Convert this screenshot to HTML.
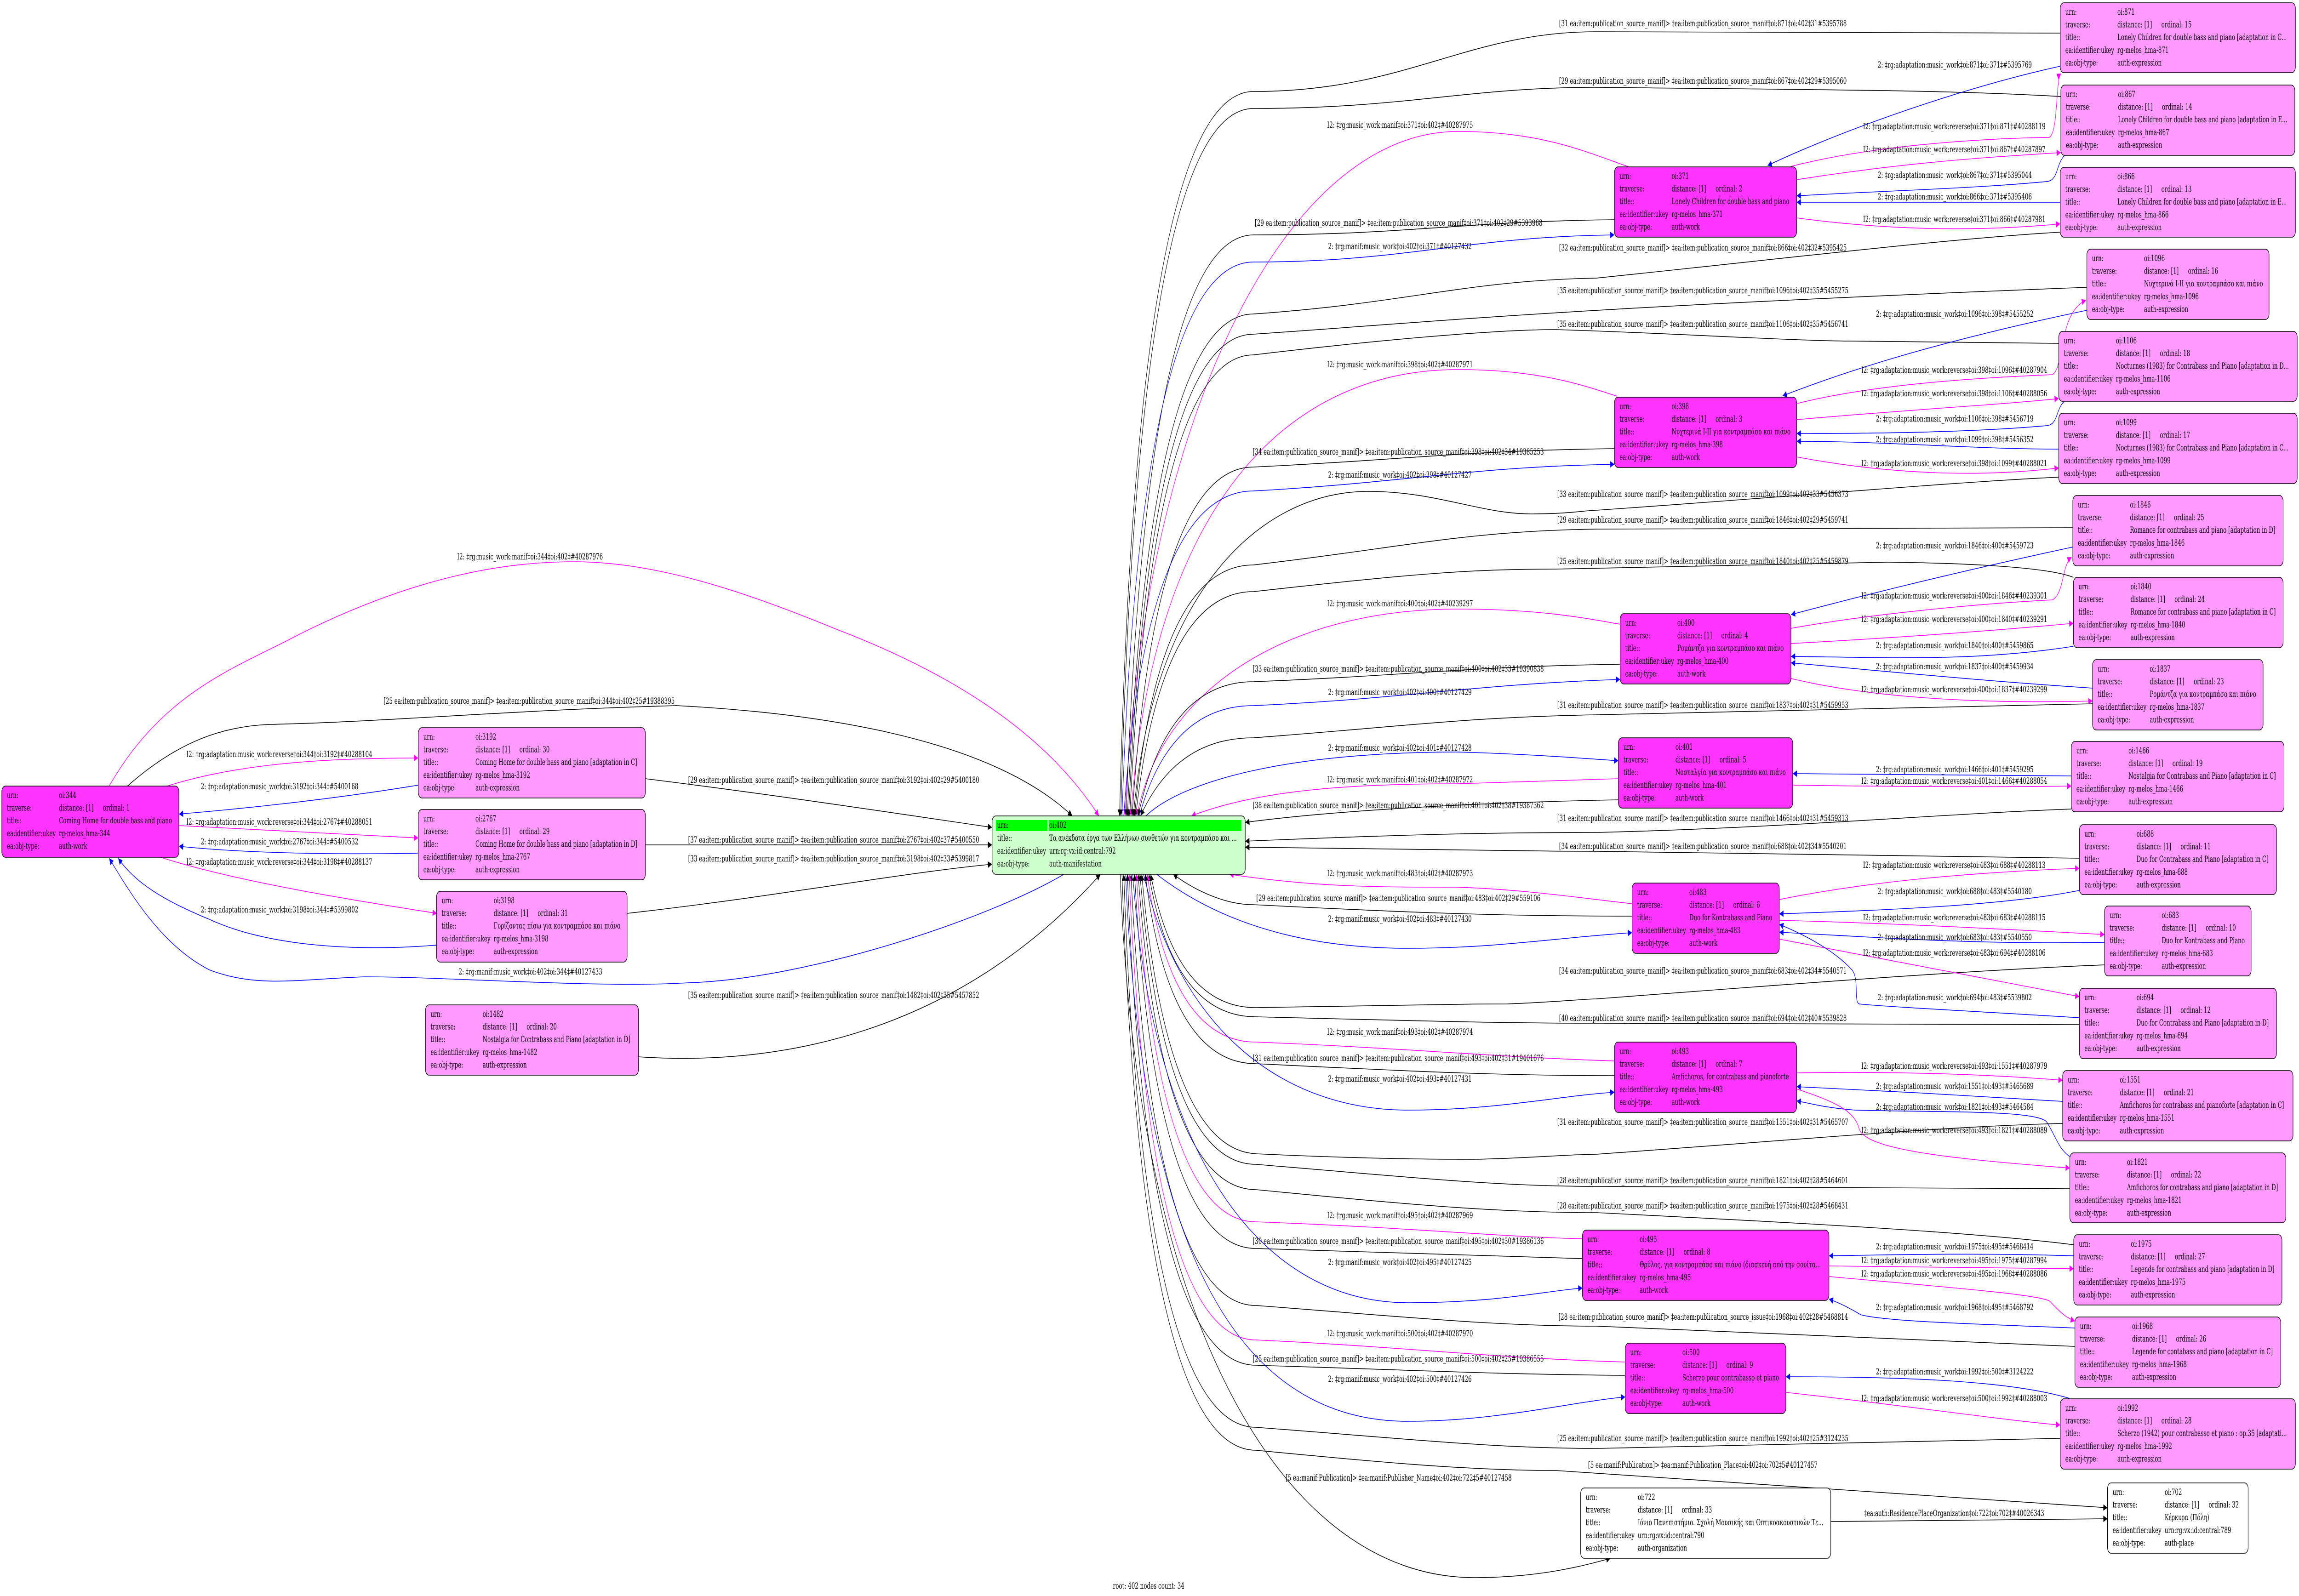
<!DOCTYPE html>
<html><head><meta charset="utf-8">
<style>
html,body{margin:0;padding:0;background:#fff;width:100%;height:100%;overflow:hidden;}
svg{display:block;position:absolute;left:0;top:0;width:100%;height:100%;}
text{font-family:"DejaVu Serif","Liberation Serif","Noto Serif CJK SC",serif;font-size:18.3px;fill:#000;}
.e{fill:none;stroke-width:1.6;}
.k{stroke:#000;} .m{stroke:#ff00ff;} .b{stroke:#0000ff;}
.nb{stroke:#000;stroke-width:1.6;}
</style></head>
<body>
<svg viewBox="0 0 7684 3472" preserveAspectRatio="none" xmlns="http://www.w3.org/2000/svg">
<defs>
<marker id="ak" viewBox="0 0 10 10" refX="10" refY="5" markerWidth="20" markerHeight="14" markerUnits="userSpaceOnUse" orient="auto-start-reverse"><path d="M0,0L10,5L0,10z" fill="#000"/></marker>
<marker id="am" viewBox="0 0 10 10" refX="10" refY="5" markerWidth="20" markerHeight="14" markerUnits="userSpaceOnUse" orient="auto-start-reverse"><path d="M0,0L10,5L0,10z" fill="#ff00ff"/></marker>
<marker id="ab" viewBox="0 0 10 10" refX="10" refY="5" markerWidth="20" markerHeight="14" markerUnits="userSpaceOnUse" orient="auto-start-reverse"><path d="M0,0L10,5L0,10z" fill="#0000ff"/></marker>
</defs>
<rect width="7684" height="3472" fill="#fff"/>

<g>
<path class="e k" marker-start="url(#ak)" d="M3742,1775 Q3800,199 4190,199 C4700,199 4900,69 5336,69 L6886,72"/>
<path class="e k" marker-start="url(#ak)" d="M3746,1775 Q3805,236 4190,236 C4700,236 4900,190 5336,190 C6000,195 6500,195 6888,210"/>
<path class="e m" marker-start="url(#am)" d="M3760,1775 C3820,900 4300,286 4873,286 C5150,286 5300,330 5444,363"/>
<path class="e k" marker-start="url(#ak)" d="M3764,1775 Q3830,511 4190,511 C4700,511 4900,481 5396,478"/>
<path class="e b" marker-end="url(#ab)" d="M3750,1775 Q3810,570 4190,570 C4700,570 4900,515 5396,511"/>
<path class="e k" marker-start="url(#ak)" d="M3768,1775 Q3840,683 4190,683 C4700,660 4900,610 5336,605 C6000,560 6500,520 6886,505"/>
<path class="e k" marker-start="url(#ak)" d="M3772,1775 Q3845,727 4190,727 C4800,700 5200,670 6975,625"/>
<path class="e k" marker-start="url(#ak)" d="M3776,1775 Q3850,772 4190,772 C4600,740 5000,717 5200,717 C5600,725 6000,742 6196,742 L6881,747"/>
<path class="e m" marker-start="url(#am)" d="M3780,1775 C3850,1100 4300,804 4873,804 C5150,804 5300,840 5405,862"/>
<path class="e k" marker-start="url(#ak)" d="M3784,1775 Q3860,1016 4190,1016 C4700,1000 4900,980 5396,976"/>
<path class="e b" marker-end="url(#ab)" d="M3756,1775 Q3830,1068 4190,1068 C4700,1050 4900,1016 5396,1010"/>
<path class="e k" marker-start="url(#ak)" d="M3788,1775 C3850,1300 4200,1069 4574,1069 C4800,1069 4950,1118 5117,1118 C5250,1118 5300,1110 5336,1110 C6000,1080 6500,1050 6881,1038"/>
<path class="e k" marker-start="url(#ak)" d="M3792,1775 Q3870,1229 4190,1229 C4700,1190 4900,1155 5336,1151 L6928,1148"/>
<path class="e k" marker-start="url(#ak)" d="M3796,1775 Q3880,1287 4190,1287 C4700,1250 4900,1238 5200,1238 C5700,1230 6100,1223 6307,1223 C6600,1225 6850,1235 6930,1256"/>
<path class="e m" marker-start="url(#am)" d="M3800,1775 C3880,1500 4300,1325 4873,1325 C5150,1325 5300,1345 5415,1358"/>
<path class="e k" marker-start="url(#ak)" d="M3804,1775 Q3900,1483 4190,1483 C4700,1470 4900,1450 5415,1445"/>
<path class="e b" marker-end="url(#ab)" d="M3808,1775 Q3910,1535 4190,1535 C4700,1520 4900,1490 5415,1478"/>
<path class="e k" marker-start="url(#ak)" d="M3812,1775 Q3930,1605 4190,1605 C4700,1580 4900,1560 5336,1555 L6994,1531"/>
<path class="e b" marker-end="url(#ab)" d="M3830,1775 C3950,1700 4300,1636 4873,1636 C5100,1640 5300,1650 5409,1655"/>
<path class="e m" marker-start="url(#am)" d="M3982,1775 C4200,1720 4500,1705 4873,1705 C5100,1700 5300,1696 5409,1694"/>
<path class="e k" marker-start="url(#ak)" d="M4162,1789 C4500,1760 5000,1745 5409,1740"/>
<path class="e k" marker-start="url(#ak)" d="M4162,1830 C4700,1815 5000,1811 5336,1811 C6000,1800 6500,1770 6923,1760"/>
<path class="e k" marker-start="url(#ak)" d="M4162,1843 C4700,1845 5000,1852 5336,1852 L6950,1867"/>
<path class="e m" marker-start="url(#am)" d="M4109,1902 C4400,1930 4600,1930 4873,1930 C5100,1935 5300,1955 5455,1966"/>
<path class="e k" marker-start="url(#ak)" d="M3921,1902 C4000,1940 4100,1968 4187,1968 C4700,1985 5000,1993 5455,1993"/>
<path class="e b" marker-end="url(#ab)" d="M3866,1902 C4100,2020 4400,2063 4707,2063 C5000,2063 5200,2040 5455,2029"/>
<path class="e k" marker-start="url(#ak)" d="M3846,1902 Q3930,2192 4198,2192 C4600,2188 4800,2184 5039,2184 C5200,2180 5300,2173 5336,2173 C6000,2140 6600,2110 7034,2099"/>
<path class="e k" marker-start="url(#ak)" d="M3840,1902 Q3920,2212 4198,2212 C4700,2220 5000,2226 5336,2226 L6950,2229"/>
<path class="e m" marker-start="url(#am)" d="M3834,1902 Q3915,2267 4198,2267 C4700,2280 5000,2300 5396,2308"/>
<path class="e k" marker-start="url(#ak)" d="M3828,1902 Q3905,2314 4198,2314 C4700,2330 5000,2340 5396,2340"/>
<path class="e b" marker-end="url(#ab)" d="M3822,1902 C3950,2250 4300,2415 4707,2415 C5000,2415 5200,2385 5396,2376"/>
<path class="e k" marker-start="url(#ak)" d="M3816,1902 Q3900,2500 4198,2510 C4600,2522 4800,2522 4928,2522 C5100,2520 5250,2511 5336,2511 C6000,2480 6500,2450 6894,2444"/>
<path class="e k" marker-start="url(#ak)" d="M3810,1902 Q3890,2533 4198,2533 C4700,2560 5000,2581 5336,2581 L6918,2586"/>
<path class="e k" marker-start="url(#ak)" d="M3804,1902 Q3880,2588 4198,2588 C4700,2620 5000,2638 5336,2638 C6000,2660 6600,2680 6931,2708"/>
<path class="e m" marker-start="url(#am)" d="M3798,1902 Q3870,2658 4198,2658 C4700,2670 5000,2690 5289,2695"/>
<path class="e k" marker-start="url(#ak)" d="M3792,1902 Q3860,2716 4198,2716 C4700,2725 5000,2735 5289,2738"/>
<path class="e b" marker-end="url(#ab)" d="M3786,1902 C3850,2500 4200,2834 4707,2834 C5000,2834 5150,2810 5289,2802"/>
<path class="e k" marker-start="url(#ak)" d="M3780,1902 Q3850,2840 4198,2840 C4700,2865 5000,2885 5336,2885 C6000,2905 6500,2920 6935,2929"/>
<path class="e m" marker-start="url(#am)" d="M3774,1902 Q3840,2915 4198,2915 C4700,2930 5000,2955 5432,2963"/>
<path class="e k" marker-start="url(#ak)" d="M3768,1902 Q3830,2970 4198,2970 C4700,2980 5000,2990 5432,2992"/>
<path class="e b" marker-end="url(#ab)" d="M3762,1902 C3820,2800 4200,3092 4707,3092 C5000,3092 5250,3050 5432,3039"/>
<path class="e k" marker-start="url(#ak)" d="M3756,1902 Q3820,3105 4198,3105 C4700,3130 5000,3151 5336,3151 L6886,3129"/>
<path class="e k" marker-end="url(#ak)" d="M3750,1902 Q3815,3155 4198,3155 C4600,3180 4900,3199 5200,3199 C6000,3230 6600,3265 7044,3280"/>
<path class="e k" marker-end="url(#ak)" d="M3744,1902 C3800,2900 4300,3432 4928,3432 C5150,3432 5300,3405 5383,3390"/>
<path class="e k" marker-end="url(#ak)" d="M6119,3310 L7044,3304"/>
</g>

<g>
<path class="e b" marker-end="url(#ab)" d="M6886,144 C6500,200 6100,300 5908,360"/>
<path class="e m" marker-end="url(#am)" d="M5986,362 C6300,310 6700,300 6849,299 C6880,290 6870,170 6889,160"/>
<path class="e m" marker-end="url(#am)" d="M6005,391 C6400,350 6700,340 6888,332"/>
<path class="e b" marker-end="url(#ab)" d="M6900,338 C6870,360 6880,393 6840,395 C6600,410 6300,415 6005,426"/>
<path class="e b" marker-end="url(#ab)" d="M6886,440 L6005,440"/>
<path class="e m" marker-end="url(#am)" d="M6005,474 C6300,500 6600,505 6886,487"/>
<path class="e b" marker-end="url(#ab)" d="M6975,675 C6500,740 6200,800 5958,861"/>
<path class="e m" marker-end="url(#am)" d="M6005,878 C6300,830 6700,820 6860,815 C6900,800 6880,680 6972,653"/>
<path class="e m" marker-end="url(#am)" d="M6005,913 C6400,890 6700,880 6881,867"/>
<path class="e b" marker-end="url(#ab)" d="M6900,873 C6870,890 6880,924 6840,926 C6600,940 6300,943 6005,943"/>
<path class="e b" marker-end="url(#ab)" d="M6881,977 C6600,977 6300,960 6005,960"/>
<path class="e m" marker-end="url(#am)" d="M6005,994 C6300,1030 6600,1040 6881,1018"/>
<path class="e b" marker-end="url(#ab)" d="M6928,1190 C6500,1250 6200,1300 5986,1337"/>
<path class="e m" marker-end="url(#am)" d="M5986,1367 C6300,1330 6700,1310 6860,1305 C6900,1290 6890,1230 6924,1212"/>
<path class="e m" marker-end="url(#am)" d="M5986,1400 C6400,1385 6700,1370 6930,1356"/>
<path class="e b" marker-end="url(#ab)" d="M6930,1406 C6600,1440 6300,1430 5986,1428"/>
<path class="e b" marker-end="url(#ab)" d="M6994,1497 C6600,1480 6300,1460 5986,1442"/>
<path class="e m" marker-end="url(#am)" d="M5986,1476 C6300,1525 6700,1530 6994,1525"/>
<path class="e b" marker-end="url(#ab)" d="M6923,1688 L5992,1683"/>
<path class="e m" marker-end="url(#am)" d="M5992,1708 C6400,1712 6700,1712 6923,1710"/>
<path class="e m" marker-end="url(#am)" d="M5947,1957 C6300,1910 6700,1895 6950,1889"/>
<path class="e b" marker-end="url(#ab)" d="M6950,1937 C6700,1970 6300,1980 5947,1988"/>
<path class="e m" marker-end="url(#am)" d="M5947,2002 C6400,2010 6800,2025 7034,2033"/>
<path class="e b" marker-end="url(#ab)" d="M7034,2050 C6600,2055 6300,2040 5947,2028"/>
<path class="e m" marker-end="url(#am)" d="M5947,2043 C6400,2100 6800,2150 6950,2168"/>
<path class="e b" marker-end="url(#ab)" d="M6950,2214 C6600,2200 6300,2190 6214,2184 C6195,2180 6215,2130 6190,2110 C6120,2060 6000,2025 5947,2011"/>
<path class="e m" marker-end="url(#am)" d="M6005,2334 C6400,2330 6700,2340 6894,2350"/>
<path class="e b" marker-end="url(#ab)" d="M6894,2396 C6600,2385 6300,2372 6005,2364"/>
<path class="e b" marker-end="url(#ab)" d="M6918,2516 C6880,2500 6870,2470 6840,2440 C6800,2415 6500,2420 6200,2415 C6100,2410 6050,2400 6005,2395"/>
<path class="e m" marker-end="url(#am)" d="M6005,2369 C6150,2400 6200,2420 6214,2456 C6236,2500 6500,2520 6918,2541"/>
<path class="e b" marker-end="url(#ab)" d="M6931,2732 C6600,2725 6300,2730 6113,2732"/>
<path class="e m" marker-end="url(#am)" d="M6113,2754 L6931,2760"/>
<path class="e m" marker-end="url(#am)" d="M6113,2777 C6500,2800 6800,2815 6850,2830 C6880,2850 6900,2865 6935,2874"/>
<path class="e b" marker-end="url(#ab)" d="M6935,2889 C6600,2880 6300,2875 6219,2860 C6180,2845 6150,2835 6113,2826"/>
<path class="e b" marker-end="url(#ab)" d="M6917,3042 C6700,3000 6300,2995 5969,2995"/>
<path class="e m" marker-end="url(#am)" d="M5969,3029 C6400,3060 6700,3090 6886,3100"/>
</g>

<g>
<path class="e m" marker-end="url(#am)" d="M365,1710 C550,1500 800,1450 1000,1380 C1400,1250 1700,1222 1918,1222 C2200,1222 2500,1290 2800,1370 C3200,1470 3500,1600 3673,1775"/>
<path class="e k" marker-end="url(#ak)" d="M426,1710 C600,1610 750,1580 900,1576 C1300,1570 1700,1545 2261,1535 C2700,1550 3300,1600 3584,1775"/>
<path class="e k" marker-end="url(#ak)" d="M2157,1694 C2600,1730 3000,1770 3316,1800"/>
<path class="e k" marker-end="url(#ak)" d="M2157,1838 L3316,1838"/>
<path class="e k" marker-end="url(#ak)" d="M2096,1987 C2600,1950 3000,1900 3316,1880"/>
<path class="e k" marker-end="url(#ak)" d="M2134,2299 C2600,2320 3200,2250 3678,1902"/>
<path class="e b" marker-end="url(#ab)" d="M3556,1902 C3300,2000 2700,2130 2300,2138 C2000,2150 1500,2125 1218,2125 C1000,2130 863,2150 700,2110 C550,2060 450,1960 365,1867"/>
<path class="e m" marker-end="url(#am)" d="M559,1710 C800,1660 1100,1649 1398,1649"/>
<path class="e b" marker-end="url(#ab)" d="M1398,1708 C1100,1740 800,1760 598,1771"/>
<path class="e m" marker-end="url(#am)" d="M598,1796 C900,1805 1200,1815 1398,1823"/>
<path class="e b" marker-end="url(#ab)" d="M1398,1856 C1100,1860 800,1855 598,1841"/>
<path class="e m" marker-end="url(#am)" d="M537,1865 C800,1920 1200,1960 1460,1987"/>
<path class="e b" marker-end="url(#ab)" d="M1460,2056 C1200,2070 900,2060 700,2000 C550,1960 450,1920 395,1867"/>
</g>

<g>
<text x="5211" y="57">[31 ea:item:publication_source_manif]&gt; ‡ea:item:publication_source_manif‡oi:871‡oi:402‡31#5395788</text>
<text x="5211" y="182">[29 ea:item:publication_source_manif]&gt; ‡ea:item:publication_source_manif‡oi:867‡oi:402‡29#5395060</text>
<text x="4436" y="278">I2: ‡rg:music_work:manif‡oi:371‡oi:402‡#40287975</text>
<text x="4194" y="491">[29 ea:item:publication_source_manif]&gt; ‡ea:item:publication_source_manif‡oi:371‡oi:402‡29#5393968</text>
<text x="4439" y="542">2: ‡rg:manif:music_work‡oi:402‡oi:371‡#40127432</text>
<text x="5211" y="545">[32 ea:item:publication_source_manif]&gt; ‡ea:item:publication_source_manif‡oi:866‡oi:402‡32#5395425</text>
<text x="5205" y="638">[35 ea:item:publication_source_manif]&gt; ‡ea:item:publication_source_manif‡oi:1096‡oi:402‡35#5455275</text>
<text x="5205" y="711">[35 ea:item:publication_source_manif]&gt; ‡ea:item:publication_source_manif‡oi:1106‡oi:402‡35#5456741</text>
<text x="4436" y="799">I2: ‡rg:music_work:manif‡oi:398‡oi:402‡#40287971</text>
<text x="4187" y="989">[34 ea:item:publication_source_manif]&gt; ‡ea:item:publication_source_manif‡oi:398‡oi:402‡34#19385253</text>
<text x="4439" y="1039">2: ‡rg:manif:music_work‡oi:402‡oi:398‡#40127427</text>
<text x="5205" y="1081">[33 ea:item:publication_source_manif]&gt; ‡ea:item:publication_source_manif‡oi:1099‡oi:402‡33#5456373</text>
<text x="5205" y="1137">[29 ea:item:publication_source_manif]&gt; ‡ea:item:publication_source_manif‡oi:1846‡oi:402‡29#5459741</text>
<text x="5205" y="1227">[25 ea:item:publication_source_manif]&gt; ‡ea:item:publication_source_manif‡oi:1840‡oi:402‡25#5459879</text>
<text x="4436" y="1319">I2: ‡rg:music_work:manif‡oi:400‡oi:402‡#40239297</text>
<text x="4187" y="1461">[33 ea:item:publication_source_manif]&gt; ‡ea:item:publication_source_manif‡oi:400‡oi:402‡33#19390838</text>
<text x="4439" y="1512">2: ‡rg:manif:music_work‡oi:402‡oi:400‡#40127429</text>
<text x="5205" y="1540">[31 ea:item:publication_source_manif]&gt; ‡ea:item:publication_source_manif‡oi:1837‡oi:402‡31#5459953</text>
<text x="4439" y="1633">2: ‡rg:manif:music_work‡oi:402‡oi:401‡#40127428</text>
<text x="4436" y="1702">I2: ‡rg:music_work:manif‡oi:401‡oi:402‡#40287972</text>
<text x="4187" y="1758">[38 ea:item:publication_source_manif]&gt; ‡ea:item:publication_source_manif‡oi:401‡oi:402‡38#19387362</text>
<text x="5205" y="1786">[31 ea:item:publication_source_manif]&gt; ‡ea:item:publication_source_manif‡oi:1466‡oi:402‡31#5459313</text>
<text x="5211" y="1847">[34 ea:item:publication_source_manif]&gt; ‡ea:item:publication_source_manif‡oi:688‡oi:402‡34#5540201</text>
<text x="4436" y="1906">I2: ‡rg:music_work:manif‡oi:483‡oi:402‡#40287973</text>
<text x="4199" y="1960">[29 ea:item:publication_source_manif]&gt; ‡ea:item:publication_source_manif‡oi:483‡oi:402‡29#559106</text>
<text x="4439" y="2005">2: ‡rg:manif:music_work‡oi:402‡oi:483‡#40127430</text>
<text x="5211" y="2118">[34 ea:item:publication_source_manif]&gt; ‡ea:item:publication_source_manif‡oi:683‡oi:402‡34#5540571</text>
<text x="5211" y="2221">[40 ea:item:publication_source_manif]&gt; ‡ea:item:publication_source_manif‡oi:694‡oi:402‡40#5539828</text>
<text x="4436" y="2251">I2: ‡rg:music_work:manif‡oi:493‡oi:402‡#40287974</text>
<text x="4187" y="2308">[31 ea:item:publication_source_manif]&gt; ‡ea:item:publication_source_manif‡oi:493‡oi:402‡31#19401676</text>
<text x="4439" y="2353">2: ‡rg:manif:music_work‡oi:402‡oi:493‡#40127431</text>
<text x="5205" y="2447">[31 ea:item:publication_source_manif]&gt; ‡ea:item:publication_source_manif‡oi:1551‡oi:402‡31#5465707</text>
<text x="5205" y="2574">[28 ea:item:publication_source_manif]&gt; ‡ea:item:publication_source_manif‡oi:1821‡oi:402‡28#5464601</text>
<text x="5205" y="2629">[28 ea:item:publication_source_manif]&gt; ‡ea:item:publication_source_manif‡oi:1975‡oi:402‡28#5468431</text>
<text x="4436" y="2650">I2: ‡rg:music_work:manif‡oi:495‡oi:402‡#40287969</text>
<text x="4187" y="2706">[30 ea:item:publication_source_manif]&gt; ‡ea:item:publication_source_manif‡oi:495‡oi:402‡30#19386136</text>
<text x="4439" y="2752">2: ‡rg:manif:music_work‡oi:402‡oi:495‡#40127425</text>
<text x="5209" y="2871">[28 ea:item:publication_source_manif]&gt; ‡ea:item:publication_source_issue‡oi:1968‡oi:402‡28#5468814</text>
<text x="4436" y="2907">I2: ‡rg:music_work:manif‡oi:500‡oi:402‡#40287970</text>
<text x="4187" y="2962">[25 ea:item:publication_source_manif]&gt; ‡ea:item:publication_source_manif‡oi:500‡oi:402‡25#19386555</text>
<text x="4439" y="3006">2: ‡rg:manif:music_work‡oi:402‡oi:500‡#40127426</text>
<text x="5205" y="3135">[25 ea:item:publication_source_manif]&gt; ‡ea:item:publication_source_manif‡oi:1992‡oi:402‡25#3124235</text>
<text x="5308" y="3193">[5 ea:manif:Publication]&gt; ‡ea:manif:Publication_Place‡oi:402‡oi:702‡5#40127457</text>
<text x="4297" y="3221">[5 ea:manif:Publication]&gt; ‡ea:manif:Publisher_Name‡oi:402‡oi:722‡5#40127458</text>
<text x="6230" y="3298">‡ea:auth:ResidencePlaceOrganization‡oi:722‡oi:702‡#40026343</text>

<text x="6276" y="147">2: ‡rg:adaptation:music_work‡oi:871‡oi:371‡#5395769</text>
<text x="6227" y="281">I2: ‡rg:adaptation:music_work:reverse‡oi:371‡oi:871‡#40288119</text>
<text x="6227" y="331">I2: ‡rg:adaptation:music_work:reverse‡oi:371‡oi:867‡#40287897</text>
<text x="6276" y="387">2: ‡rg:adaptation:music_work‡oi:867‡oi:371‡#5395044</text>
<text x="6276" y="434">2: ‡rg:adaptation:music_work‡oi:866‡oi:371‡#5395406</text>
<text x="6227" y="483">I2: ‡rg:adaptation:music_work:reverse‡oi:371‡oi:866‡#40287981</text>
<text x="6270" y="689">2: ‡rg:adaptation:music_work‡oi:1096‡oi:398‡#5455252</text>
<text x="6221" y="811">I2: ‡rg:adaptation:music_work:reverse‡oi:398‡oi:1096‡#40287904</text>
<text x="6221" y="862">I2: ‡rg:adaptation:music_work:reverse‡oi:398‡oi:1106‡#40288056</text>
<text x="6270" y="917">2: ‡rg:adaptation:music_work‡oi:1106‡oi:398‡#5456719</text>
<text x="6270" y="962">2: ‡rg:adaptation:music_work‡oi:1099‡oi:398‡#5456352</text>
<text x="6221" y="1014">I2: ‡rg:adaptation:music_work:reverse‡oi:398‡oi:1099‡#40288021</text>
<text x="6270" y="1193">2: ‡rg:adaptation:music_work‡oi:1846‡oi:400‡#5459723</text>
<text x="6221" y="1302">I2: ‡rg:adaptation:music_work:reverse‡oi:400‡oi:1846‡#40239301</text>
<text x="6221" y="1353">I2: ‡rg:adaptation:music_work:reverse‡oi:400‡oi:1840‡#40239291</text>
<text x="6270" y="1410">2: ‡rg:adaptation:music_work‡oi:1840‡oi:400‡#5459865</text>
<text x="6270" y="1456">2: ‡rg:adaptation:music_work‡oi:1837‡oi:400‡#5459934</text>
<text x="6221" y="1506">I2: ‡rg:adaptation:music_work:reverse‡oi:400‡oi:1837‡#40239299</text>
<text x="6270" y="1680">2: ‡rg:adaptation:music_work‡oi:1466‡oi:401‡#5459295</text>
<text x="6221" y="1705">I2: ‡rg:adaptation:music_work:reverse‡oi:401‡oi:1466‡#40288054</text>
<text x="6227" y="1888">I2: ‡rg:adaptation:music_work:reverse‡oi:483‡oi:688‡#40288113</text>
<text x="6276" y="1945">2: ‡rg:adaptation:music_work‡oi:688‡oi:483‡#5540180</text>
<text x="6227" y="2002">I2: ‡rg:adaptation:music_work:reverse‡oi:483‡oi:683‡#40288115</text>
<text x="6276" y="2045">2: ‡rg:adaptation:music_work‡oi:683‡oi:483‡#5540550</text>
<text x="6227" y="2079">I2: ‡rg:adaptation:music_work:reverse‡oi:483‡oi:694‡#40288106</text>
<text x="6276" y="2176">2: ‡rg:adaptation:music_work‡oi:694‡oi:483‡#5539802</text>
<text x="6221" y="2325">I2: ‡rg:adaptation:music_work:reverse‡oi:493‡oi:1551‡#40287979</text>
<text x="6270" y="2369">2: ‡rg:adaptation:music_work‡oi:1551‡oi:493‡#5465689</text>
<text x="6270" y="2414">2: ‡rg:adaptation:music_work‡oi:1821‡oi:493‡#5464584</text>
<text x="6221" y="2465">I2: ‡rg:adaptation:music_work:reverse‡oi:493‡oi:1821‡#40288089</text>
<text x="6270" y="2718">2: ‡rg:adaptation:music_work‡oi:1975‡oi:495‡#5468414</text>
<text x="6221" y="2748">I2: ‡rg:adaptation:music_work:reverse‡oi:495‡oi:1975‡#40287994</text>
<text x="6221" y="2777">I2: ‡rg:adaptation:music_work:reverse‡oi:495‡oi:1968‡#40288086</text>
<text x="6270" y="2850">2: ‡rg:adaptation:music_work‡oi:1968‡oi:495‡#5468792</text>
<text x="6270" y="2990">2: ‡rg:adaptation:music_work‡oi:1992‡oi:500‡#3124222</text>
<text x="6221" y="3048">I2: ‡rg:adaptation:music_work:reverse‡oi:500‡oi:1992‡#40288003</text>

<text x="1528" y="1217">I2: ‡rg:music_work:manif‡oi:344‡oi:402‡#40287976</text>
<text x="1282" y="1531">[25 ea:item:publication_source_manif]&gt; ‡ea:item:publication_source_manif‡oi:344‡oi:402‡25#19388395</text>
<text x="2300" y="1703">[29 ea:item:publication_source_manif]&gt; ‡ea:item:publication_source_manif‡oi:3192‡oi:402‡29#5400180</text>
<text x="2300" y="1833">[37 ea:item:publication_source_manif]&gt; ‡ea:item:publication_source_manif‡oi:2767‡oi:402‡37#5400550</text>
<text x="2300" y="1874">[33 ea:item:publication_source_manif]&gt; ‡ea:item:publication_source_manif‡oi:3198‡oi:402‡33#5399817</text>
<text x="2300" y="2171">[35 ea:item:publication_source_manif]&gt; ‡ea:item:publication_source_manif‡oi:1482‡oi:402‡35#5457852</text>
<text x="1533" y="2120">2: ‡rg:manif:music_work‡oi:402‡oi:344‡#40127433</text>
<text x="623" y="1647">I2: ‡rg:adaptation:music_work:reverse‡oi:344‡oi:3192‡#40288104</text>
<text x="671" y="1717">2: ‡rg:adaptation:music_work‡oi:3192‡oi:344‡#5400168</text>
<text x="623" y="1794">I2: ‡rg:adaptation:music_work:reverse‡oi:344‡oi:2767‡#40288051</text>
<text x="671" y="1837">2: ‡rg:adaptation:music_work‡oi:2767‡oi:344‡#5400532</text>
<text x="623" y="1881">I2: ‡rg:adaptation:music_work:reverse‡oi:344‡oi:3198‡#40288137</text>
<text x="671" y="1985">2: ‡rg:adaptation:music_work‡oi:3198‡oi:344‡#5399802</text>

<text x="3720" y="3456">root: 402 nodes count: 34</text>
</g>

<g transform="translate(3316,1775)">
<rect x="0" y="0" width="846" height="127" rx="12" fill="#ccffcc" class="nb"/>
<rect x="13" y="9" width="172" height="24" fill="#00ff00"/>
<rect x="189" y="9" width="644" height="24" fill="#00ff00"/>
<text x="17" y="26">urn:</text><text x="191" y="26">oi:402</text>
<text x="17" y="54">title::</text><text x="191" y="54">Τα ανέκδοτα έργα των Ελλήνων συνθετών για κοντραμπάσο και ...</text>
<text x="17" y="82">ea:identifier:ukey</text><text x="191" y="82">urn:rg:vx:id:central:792</text>
<text x="17" y="110">ea:obj-type:</text><text x="191" y="110">auth-manifestation</text>
</g>

<g transform="translate(6,1710)"><rect width="592" height="155" rx="12" fill="#ff33ff" class="nb"/>
<text x="17" y="26">urn:</text><text x="191" y="26">oi:344</text>
<text x="17" y="53.5">traverse:</text><text x="191" y="53.5">distance: [1]</text><text x="338" y="53.5">ordinal: 1</text>
<text x="17" y="81">title::</text><text x="191" y="81">Coming Home for double bass and piano</text>
<text x="17" y="109">ea:identifier:ukey</text><text x="191" y="109">rg-melos_hma-344</text>
<text x="17" y="136.5">ea:obj-type:</text><text x="191" y="136.5">auth-work</text></g>

<g transform="translate(5396,363)"><rect width="609" height="153" rx="12" fill="#ff33ff" class="nb"/>
<text x="17" y="26">urn:</text><text x="191" y="26">oi:371</text>
<text x="17" y="53.5">traverse:</text><text x="191" y="53.5">distance: [1]</text><text x="338" y="53.5">ordinal: 2</text>
<text x="17" y="81">title::</text><text x="191" y="81">Lonely Children for double bass and piano</text>
<text x="17" y="109">ea:identifier:ukey</text><text x="191" y="109">rg-melos_hma-371</text>
<text x="17" y="136.5">ea:obj-type:</text><text x="191" y="136.5">auth-work</text></g>

<g transform="translate(5396,864)"><rect width="609" height="153" rx="12" fill="#ff33ff" class="nb"/>
<text x="17" y="26">urn:</text><text x="191" y="26">oi:398</text>
<text x="17" y="53.5">traverse:</text><text x="191" y="53.5">distance: [1]</text><text x="338" y="53.5">ordinal: 3</text>
<text x="17" y="81">title::</text><text x="191" y="81">Νυχτερινά I-II για κοντραμπάσο και πιάνο</text>
<text x="17" y="109">ea:identifier:ukey</text><text x="191" y="109">rg-melos_hma-398</text>
<text x="17" y="136.5">ea:obj-type:</text><text x="191" y="136.5">auth-work</text></g>

<g transform="translate(5415,1335)"><rect width="571" height="153" rx="12" fill="#ff33ff" class="nb"/>
<text x="17" y="26">urn:</text><text x="191" y="26">oi:400</text>
<text x="17" y="53.5">traverse:</text><text x="191" y="53.5">distance: [1]</text><text x="338" y="53.5">ordinal: 4</text>
<text x="17" y="81">title::</text><text x="191" y="81">Ρομάντζα για κοντραμπάσο και πιάνο</text>
<text x="17" y="109">ea:identifier:ukey</text><text x="191" y="109">rg-melos_hma-400</text>
<text x="17" y="136.5">ea:obj-type:</text><text x="191" y="136.5">auth-work</text></g>

<g transform="translate(5409,1605)"><rect width="583" height="153" rx="12" fill="#ff33ff" class="nb"/>
<text x="17" y="26">urn:</text><text x="191" y="26">oi:401</text>
<text x="17" y="53.5">traverse:</text><text x="191" y="53.5">distance: [1]</text><text x="338" y="53.5">ordinal: 5</text>
<text x="17" y="81">title::</text><text x="191" y="81">Νοσταλγία για κοντραμπάσο και πιάνο</text>
<text x="17" y="109">ea:identifier:ukey</text><text x="191" y="109">rg-melos_hma-401</text>
<text x="17" y="136.5">ea:obj-type:</text><text x="191" y="136.5">auth-work</text></g>

<g transform="translate(5455,1921)"><rect width="492" height="153" rx="12" fill="#ff33ff" class="nb"/>
<text x="17" y="26">urn:</text><text x="191" y="26">oi:483</text>
<text x="17" y="53.5">traverse:</text><text x="191" y="53.5">distance: [1]</text><text x="338" y="53.5">ordinal: 6</text>
<text x="17" y="81">title::</text><text x="191" y="81">Duo for Kontrabass and Piano</text>
<text x="17" y="109">ea:identifier:ukey</text><text x="191" y="109">rg-melos_hma-483</text>
<text x="17" y="136.5">ea:obj-type:</text><text x="191" y="136.5">auth-work</text></g>

<g transform="translate(5396,2267)"><rect width="609" height="153" rx="12" fill="#ff33ff" class="nb"/>
<text x="17" y="26">urn:</text><text x="191" y="26">oi:493</text>
<text x="17" y="53.5">traverse:</text><text x="191" y="53.5">distance: [1]</text><text x="338" y="53.5">ordinal: 7</text>
<text x="17" y="81">title::</text><text x="191" y="81">Amfichoros, for contrabass and pianoforte</text>
<text x="17" y="109">ea:identifier:ukey</text><text x="191" y="109">rg-melos_hma-493</text>
<text x="17" y="136.5">ea:obj-type:</text><text x="191" y="136.5">auth-work</text></g>

<g transform="translate(5289,2676)"><rect width="824" height="153" rx="12" fill="#ff33ff" class="nb"/>
<text x="17" y="26">urn:</text><text x="191" y="26">oi:495</text>
<text x="17" y="53.5">traverse:</text><text x="191" y="53.5">distance: [1]</text><text x="338" y="53.5">ordinal: 8</text>
<text x="17" y="81">title::</text><text x="191" y="81">Θρύλος, για κοντραμπάσο και πιάνο (διασκευή από την σουίτα...</text>
<text x="17" y="109">ea:identifier:ukey</text><text x="191" y="109">rg-melos_hma-495</text>
<text x="17" y="136.5">ea:obj-type:</text><text x="191" y="136.5">auth-work</text></g>

<g transform="translate(5432,2922)"><rect width="537" height="153" rx="12" fill="#ff33ff" class="nb"/>
<text x="17" y="26">urn:</text><text x="191" y="26">oi:500</text>
<text x="17" y="53.5">traverse:</text><text x="191" y="53.5">distance: [1]</text><text x="338" y="53.5">ordinal: 9</text>
<text x="17" y="81">title::</text><text x="191" y="81">Scherzo pour contrabasso et piano</text>
<text x="17" y="109">ea:identifier:ukey</text><text x="191" y="109">rg-melos_hma-500</text>
<text x="17" y="136.5">ea:obj-type:</text><text x="191" y="136.5">auth-work</text></g>

<g transform="translate(1398,1583)"><rect width="759" height="153" rx="12" fill="#ff99ff" class="nb"/>
<text x="17" y="26">urn:</text><text x="191" y="26">oi:3192</text>
<text x="17" y="53.5">traverse:</text><text x="191" y="53.5">distance: [1]</text><text x="338" y="53.5">ordinal: 30</text>
<text x="17" y="81">title::</text><text x="191" y="81">Coming Home for double bass and piano [adaptation in C]</text>
<text x="17" y="109">ea:identifier:ukey</text><text x="191" y="109">rg-melos_hma-3192</text>
<text x="17" y="136.5">ea:obj-type:</text><text x="191" y="136.5">auth-expression</text></g>

<g transform="translate(1398,1761)"><rect width="759" height="153" rx="12" fill="#ff99ff" class="nb"/>
<text x="17" y="26">urn:</text><text x="191" y="26">oi:2767</text>
<text x="17" y="53.5">traverse:</text><text x="191" y="53.5">distance: [1]</text><text x="338" y="53.5">ordinal: 29</text>
<text x="17" y="81">title::</text><text x="191" y="81">Coming Home for double bass and piano [adaptation in D]</text>
<text x="17" y="109">ea:identifier:ukey</text><text x="191" y="109">rg-melos_hma-2767</text>
<text x="17" y="136.5">ea:obj-type:</text><text x="191" y="136.5">auth-expression</text></g>

<g transform="translate(1459,1939)"><rect width="637" height="154" rx="12" fill="#ff99ff" class="nb"/>
<text x="17" y="26">urn:</text><text x="191" y="26">oi:3198</text>
<text x="17" y="53.5">traverse:</text><text x="191" y="53.5">distance: [1]</text><text x="338" y="53.5">ordinal: 31</text>
<text x="17" y="81">title::</text><text x="191" y="81">Γυρίζοντας πίσω για κοντραμπάσο και πιάνο</text>
<text x="17" y="109">ea:identifier:ukey</text><text x="191" y="109">rg-melos_hma-3198</text>
<text x="17" y="136.5">ea:obj-type:</text><text x="191" y="136.5">auth-expression</text></g>

<g transform="translate(1422,2186)"><rect width="712" height="153" rx="12" fill="#ff99ff" class="nb"/>
<text x="17" y="26">urn:</text><text x="191" y="26">oi:1482</text>
<text x="17" y="53.5">traverse:</text><text x="191" y="53.5">distance: [1]</text><text x="338" y="53.5">ordinal: 20</text>
<text x="17" y="81">title::</text><text x="191" y="81">Nostalgia for Contrabass and Piano [adaptation in D]</text>
<text x="17" y="109">ea:identifier:ukey</text><text x="191" y="109">rg-melos_hma-1482</text>
<text x="17" y="136.5">ea:obj-type:</text><text x="191" y="136.5">auth-expression</text></g>

<g transform="translate(6886,6)"><rect width="786" height="152" rx="12" fill="#ff99ff" class="nb"/>
<text x="17" y="26">urn:</text><text x="191" y="26">oi:871</text>
<text x="17" y="53.5">traverse:</text><text x="191" y="53.5">distance: [1]</text><text x="338" y="53.5">ordinal: 15</text>
<text x="17" y="81">title::</text><text x="191" y="81">Lonely Children for double bass and piano [adaptation in C...</text>
<text x="17" y="109">ea:identifier:ukey</text><text x="191" y="109">rg-melos_hma-871</text>
<text x="17" y="136.5">ea:obj-type:</text><text x="191" y="136.5">auth-expression</text></g>

<g transform="translate(6888,185)"><rect width="782" height="153" rx="12" fill="#ff99ff" class="nb"/>
<text x="17" y="26">urn:</text><text x="191" y="26">oi:867</text>
<text x="17" y="53.5">traverse:</text><text x="191" y="53.5">distance: [1]</text><text x="338" y="53.5">ordinal: 14</text>
<text x="17" y="81">title::</text><text x="191" y="81">Lonely Children for double bass and piano [adaptation in E...</text>
<text x="17" y="109">ea:identifier:ukey</text><text x="191" y="109">rg-melos_hma-867</text>
<text x="17" y="136.5">ea:obj-type:</text><text x="191" y="136.5">auth-expression</text></g>

<g transform="translate(6886,364)"><rect width="786" height="152" rx="12" fill="#ff99ff" class="nb"/>
<text x="17" y="26">urn:</text><text x="191" y="26">oi:866</text>
<text x="17" y="53.5">traverse:</text><text x="191" y="53.5">distance: [1]</text><text x="338" y="53.5">ordinal: 13</text>
<text x="17" y="81">title::</text><text x="191" y="81">Lonely Children for double bass and piano [adaptation in E...</text>
<text x="17" y="109">ea:identifier:ukey</text><text x="191" y="109">rg-melos_hma-866</text>
<text x="17" y="136.5">ea:obj-type:</text><text x="191" y="136.5">auth-expression</text></g>

<g transform="translate(6975,542)"><rect width="609" height="153" rx="12" fill="#ff99ff" class="nb"/>
<text x="17" y="26">urn:</text><text x="191" y="26">oi:1096</text>
<text x="17" y="53.5">traverse:</text><text x="191" y="53.5">distance: [1]</text><text x="338" y="53.5">ordinal: 16</text>
<text x="17" y="81">title::</text><text x="191" y="81">Νυχτερινά I-II για κοντραμπάσο και πιάνο</text>
<text x="17" y="109">ea:identifier:ukey</text><text x="191" y="109">rg-melos_hma-1096</text>
<text x="17" y="136.5">ea:obj-type:</text><text x="191" y="136.5">auth-expression</text></g>

<g transform="translate(6881,721)"><rect width="797" height="152" rx="12" fill="#ff99ff" class="nb"/>
<text x="17" y="26">urn:</text><text x="191" y="26">oi:1106</text>
<text x="17" y="53.5">traverse:</text><text x="191" y="53.5">distance: [1]</text><text x="338" y="53.5">ordinal: 18</text>
<text x="17" y="81">title::</text><text x="191" y="81">Nocturnes (1983) for Contrabass and Piano [adaptation in D...</text>
<text x="17" y="109">ea:identifier:ukey</text><text x="191" y="109">rg-melos_hma-1106</text>
<text x="17" y="136.5">ea:obj-type:</text><text x="191" y="136.5">auth-expression</text></g>

<g transform="translate(6881,899)"><rect width="797" height="153" rx="12" fill="#ff99ff" class="nb"/>
<text x="17" y="26">urn:</text><text x="191" y="26">oi:1099</text>
<text x="17" y="53.5">traverse:</text><text x="191" y="53.5">distance: [1]</text><text x="338" y="53.5">ordinal: 17</text>
<text x="17" y="81">title::</text><text x="191" y="81">Nocturnes (1983) for Contrabass and Piano [adaptation in C...</text>
<text x="17" y="109">ea:identifier:ukey</text><text x="191" y="109">rg-melos_hma-1099</text>
<text x="17" y="136.5">ea:obj-type:</text><text x="191" y="136.5">auth-expression</text></g>

<g transform="translate(6928,1078)"><rect width="703" height="153" rx="12" fill="#ff99ff" class="nb"/>
<text x="17" y="26">urn:</text><text x="191" y="26">oi:1846</text>
<text x="17" y="53.5">traverse:</text><text x="191" y="53.5">distance: [1]</text><text x="338" y="53.5">ordinal: 25</text>
<text x="17" y="81">title::</text><text x="191" y="81">Romance for contrabass and piano [adaptation in D]</text>
<text x="17" y="109">ea:identifier:ukey</text><text x="191" y="109">rg-melos_hma-1846</text>
<text x="17" y="136.5">ea:obj-type:</text><text x="191" y="136.5">auth-expression</text></g>

<g transform="translate(6930,1256)"><rect width="701" height="153" rx="12" fill="#ff99ff" class="nb"/>
<text x="17" y="26">urn:</text><text x="191" y="26">oi:1840</text>
<text x="17" y="53.5">traverse:</text><text x="191" y="53.5">distance: [1]</text><text x="338" y="53.5">ordinal: 24</text>
<text x="17" y="81">title::</text><text x="191" y="81">Romance for contrabass and piano [adaptation in C]</text>
<text x="17" y="109">ea:identifier:ukey</text><text x="191" y="109">rg-melos_hma-1840</text>
<text x="17" y="136.5">ea:obj-type:</text><text x="191" y="136.5">auth-expression</text></g>

<g transform="translate(6994,1435)"><rect width="570" height="153" rx="12" fill="#ff99ff" class="nb"/>
<text x="17" y="26">urn:</text><text x="191" y="26">oi:1837</text>
<text x="17" y="53.5">traverse:</text><text x="191" y="53.5">distance: [1]</text><text x="338" y="53.5">ordinal: 23</text>
<text x="17" y="81">title::</text><text x="191" y="81">Ρομάντζα για κοντραμπάσο και πιάνο</text>
<text x="17" y="109">ea:identifier:ukey</text><text x="191" y="109">rg-melos_hma-1837</text>
<text x="17" y="136.5">ea:obj-type:</text><text x="191" y="136.5">auth-expression</text></g>

<g transform="translate(6923,1613)"><rect width="711" height="153" rx="12" fill="#ff99ff" class="nb"/>
<text x="17" y="26">urn:</text><text x="191" y="26">oi:1466</text>
<text x="17" y="53.5">traverse:</text><text x="191" y="53.5">distance: [1]</text><text x="338" y="53.5">ordinal: 19</text>
<text x="17" y="81">title::</text><text x="191" y="81">Nostalgia for Contrabass and Piano [adaptation in C]</text>
<text x="17" y="109">ea:identifier:ukey</text><text x="191" y="109">rg-melos_hma-1466</text>
<text x="17" y="136.5">ea:obj-type:</text><text x="191" y="136.5">auth-expression</text></g>

<g transform="translate(6950,1794)"><rect width="659" height="152" rx="12" fill="#ff99ff" class="nb"/>
<text x="17" y="26">urn:</text><text x="191" y="26">oi:688</text>
<text x="17" y="53.5">traverse:</text><text x="191" y="53.5">distance: [1]</text><text x="338" y="53.5">ordinal: 11</text>
<text x="17" y="81">title::</text><text x="191" y="81">Duo for Contrabass and Piano [adaptation in C]</text>
<text x="17" y="109">ea:identifier:ukey</text><text x="191" y="109">rg-melos_hma-688</text>
<text x="17" y="136.5">ea:obj-type:</text><text x="191" y="136.5">auth-expression</text></g>

<g transform="translate(7034,1971)"><rect width="490" height="152" rx="12" fill="#ff99ff" class="nb"/>
<text x="17" y="26">urn:</text><text x="191" y="26">oi:683</text>
<text x="17" y="53.5">traverse:</text><text x="191" y="53.5">distance: [1]</text><text x="338" y="53.5">ordinal: 10</text>
<text x="17" y="81">title::</text><text x="191" y="81">Duo for Kontrabass and Piano</text>
<text x="17" y="109">ea:identifier:ukey</text><text x="191" y="109">rg-melos_hma-683</text>
<text x="17" y="136.5">ea:obj-type:</text><text x="191" y="136.5">auth-expression</text></g>

<g transform="translate(6950,2150)"><rect width="659" height="153" rx="12" fill="#ff99ff" class="nb"/>
<text x="17" y="26">urn:</text><text x="191" y="26">oi:694</text>
<text x="17" y="53.5">traverse:</text><text x="191" y="53.5">distance: [1]</text><text x="338" y="53.5">ordinal: 12</text>
<text x="17" y="81">title::</text><text x="191" y="81">Duo for Contrabass and Piano [adaptation in D]</text>
<text x="17" y="109">ea:identifier:ukey</text><text x="191" y="109">rg-melos_hma-694</text>
<text x="17" y="136.5">ea:obj-type:</text><text x="191" y="136.5">auth-expression</text></g>

<g transform="translate(6894,2329)"><rect width="770" height="153" rx="12" fill="#ff99ff" class="nb"/>
<text x="17" y="26">urn:</text><text x="191" y="26">oi:1551</text>
<text x="17" y="53.5">traverse:</text><text x="191" y="53.5">distance: [1]</text><text x="338" y="53.5">ordinal: 21</text>
<text x="17" y="81">title::</text><text x="191" y="81">Amfichoros for contrabass and pianoforte [adaptation in C]</text>
<text x="17" y="109">ea:identifier:ukey</text><text x="191" y="109">rg-melos_hma-1551</text>
<text x="17" y="136.5">ea:obj-type:</text><text x="191" y="136.5">auth-expression</text></g>

<g transform="translate(6918,2508)"><rect width="722" height="152" rx="12" fill="#ff99ff" class="nb"/>
<text x="17" y="26">urn:</text><text x="191" y="26">oi:1821</text>
<text x="17" y="53.5">traverse:</text><text x="191" y="53.5">distance: [1]</text><text x="338" y="53.5">ordinal: 22</text>
<text x="17" y="81">title::</text><text x="191" y="81">Amfichoros for contrabass and piano [adaptation in D]</text>
<text x="17" y="109">ea:identifier:ukey</text><text x="191" y="109">rg-melos_hma-1821</text>
<text x="17" y="136.5">ea:obj-type:</text><text x="191" y="136.5">auth-expression</text></g>

<g transform="translate(6931,2686)"><rect width="696" height="153" rx="12" fill="#ff99ff" class="nb"/>
<text x="17" y="26">urn:</text><text x="191" y="26">oi:1975</text>
<text x="17" y="53.5">traverse:</text><text x="191" y="53.5">distance: [1]</text><text x="338" y="53.5">ordinal: 27</text>
<text x="17" y="81">title::</text><text x="191" y="81">Legende for contrabass and piano [adaptation in D]</text>
<text x="17" y="109">ea:identifier:ukey</text><text x="191" y="109">rg-melos_hma-1975</text>
<text x="17" y="136.5">ea:obj-type:</text><text x="191" y="136.5">auth-expression</text></g>

<g transform="translate(6935,2865)"><rect width="688" height="153" rx="12" fill="#ff99ff" class="nb"/>
<text x="17" y="26">urn:</text><text x="191" y="26">oi:1968</text>
<text x="17" y="53.5">traverse:</text><text x="191" y="53.5">distance: [1]</text><text x="338" y="53.5">ordinal: 26</text>
<text x="17" y="81">title::</text><text x="191" y="81">Legende for contabass and piano [adaptation in C]</text>
<text x="17" y="109">ea:identifier:ukey</text><text x="191" y="109">rg-melos_hma-1968</text>
<text x="17" y="136.5">ea:obj-type:</text><text x="191" y="136.5">auth-expression</text></g>

<g transform="translate(6886,3043)"><rect width="786" height="153" rx="12" fill="#ff99ff" class="nb"/>
<text x="17" y="26">urn:</text><text x="191" y="26">oi:1992</text>
<text x="17" y="53.5">traverse:</text><text x="191" y="53.5">distance: [1]</text><text x="338" y="53.5">ordinal: 28</text>
<text x="17" y="81">title::</text><text x="191" y="81">Scherzo (1942) pour contrabasso et piano : op.35 [adaptati...</text>
<text x="17" y="109">ea:identifier:ukey</text><text x="191" y="109">rg-melos_hma-1992</text>
<text x="17" y="136.5">ea:obj-type:</text><text x="191" y="136.5">auth-expression</text></g>

<g transform="translate(5283,3237)"><rect width="836" height="153" rx="12" fill="#ffffff" class="nb"/>
<text x="17" y="26">urn:</text><text x="191" y="26">oi:722</text>
<text x="17" y="53.5">traverse:</text><text x="191" y="53.5">distance: [1]</text><text x="338" y="53.5">ordinal: 33</text>
<text x="17" y="81">title::</text><text x="191" y="81">Ιόνιο Πανεπιστήμιο. Σχολή Μουσικής και Οπτικοακουστικών Τε...</text>
<text x="17" y="109">ea:identifier:ukey</text><text x="191" y="109">urn:rg:vx:id:central:790</text>
<text x="17" y="136.5">ea:obj-type:</text><text x="191" y="136.5">auth-organization</text></g>

<g transform="translate(7044,3226)"><rect width="470" height="153" rx="12" fill="#ffffff" class="nb"/>
<text x="17" y="26">urn:</text><text x="191" y="26">oi:702</text>
<text x="17" y="53.5">traverse:</text><text x="191" y="53.5">distance: [1]</text><text x="338" y="53.5">ordinal: 32</text>
<text x="17" y="81">title::</text><text x="191" y="81">Κέρκυρα (Πόλη)</text>
<text x="17" y="109">ea:identifier:ukey</text><text x="191" y="109">urn:rg:vx:id:central:789</text>
<text x="17" y="136.5">ea:obj-type:</text><text x="191" y="136.5">auth-place</text></g>
</svg>
</body></html>
